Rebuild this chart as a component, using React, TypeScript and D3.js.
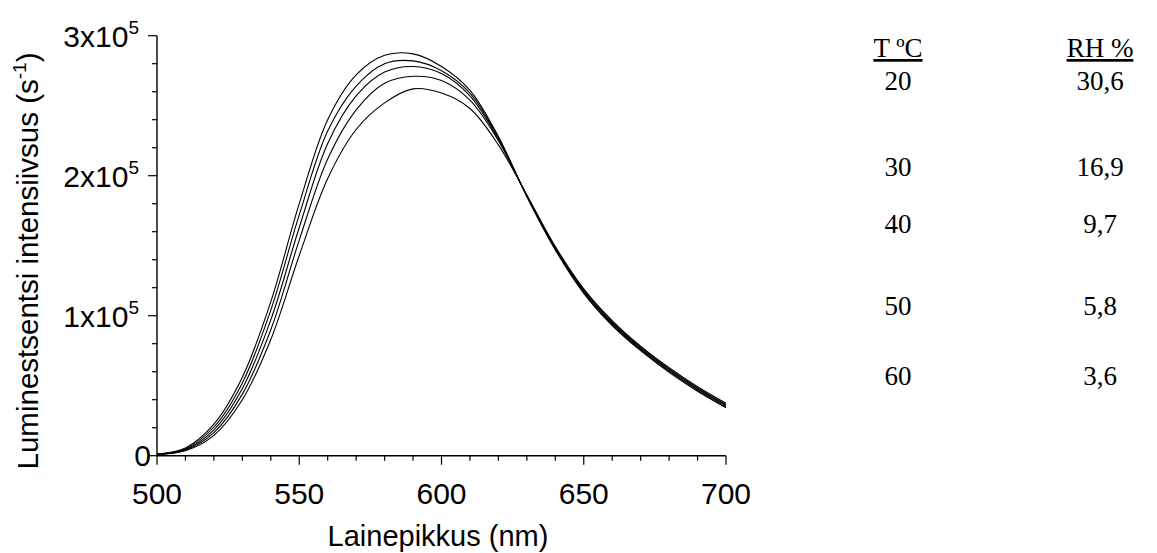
import React from "react";
import * as d3 from "d3";

const UNIT = 1e5;
const wavelengths = [500, 510, 520, 530, 540, 550, 560, 570, 580, 590, 600, 610, 620, 630, 640, 650, 660, 670, 680, 690, 700];
const series20 = [0.012, 0.055, 0.225, 0.56, 1.10, 1.80, 2.40, 2.72, 2.86, 2.87, 2.78, 2.61, 2.28, 1.85, 1.47, 1.16, 0.93, 0.75, 0.595, 0.46, 0.342];
const series30 = [0.011, 0.05, 0.205, 0.52, 1.04, 1.72, 2.32, 2.64, 2.80, 2.82, 2.75, 2.59, 2.27, 1.853, 1.476, 1.168, 0.938, 0.757, 0.603, 0.468, 0.35];
const series40 = [0.010, 0.045, 0.185, 0.48, 0.97, 1.63, 2.23, 2.57, 2.74, 2.78, 2.73, 2.57, 2.26, 1.856, 1.482, 1.176, 0.946, 0.765, 0.611, 0.476, 0.358];
const series50 = [0.009, 0.04, 0.165, 0.44, 0.90, 1.54, 2.12, 2.47, 2.66, 2.71, 2.68, 2.54, 2.25, 1.859, 1.488, 1.184, 0.955, 0.773, 0.619, 0.484, 0.366];
const series60 = [0.008, 0.035, 0.145, 0.40, 0.83, 1.43, 1.98, 2.33, 2.52, 2.62, 2.59, 2.48, 2.22, 1.862, 1.494, 1.192, 0.965, 0.782, 0.628, 0.493, 0.375];
const allSeries = [series20, series30, series40, series50, series60];

const xTicks = [500, 550, 600, 650, 700];
const yTicks = [0, 1, 2, 3];
const tempLabels = ["20", "30", "40", "50", "60"];
const rhLabels = ["30,6", "16,9", "9,7", "5,8", "3,6"];
const legendRowY = [80, 166, 223, 305, 375];

const SANS = "'Liberation Sans', Arial, sans-serif";
const SERIF = "'Liberation Serif', 'Times New Roman', serif";

export default function App() {
  const x = d3.scaleLinear().domain([500, 700]).range([157, 726]);
  const y = d3.scaleLinear().domain([0, 3 * UNIT]).range([455.7, 35.7]);
  const line = d3
    .line<number>()
    .x((_, i) => x(wavelengths[i]))
    .y((d) => y(d * UNIT))
    .curve(d3.curveCatmullRom.alpha(0.5));

  const xMinor = d3.range(500, 701, 10);
  const yMinor = d3.range(0, 3.0001, 0.2);

  return (
    <svg
      width={1157}
      height={553}
      style={{ position: "absolute", left: 0, top: 0, background: "#fff" }}
    >
      <rect x={0} y={0} width={1157} height={553} fill="#fff" />
      {allSeries.map((s, i) => (
        <path key={i} d={line(s) || ""} fill="none" stroke="#000" strokeWidth={1.1} />
      ))}
      {/* axes */}
      <line x1={x(500)} x2={x(500)} y1={y(0) + 0.5} y2={y(3 * UNIT)} stroke="#000" strokeWidth={1.4} />
      <line x1={x(500)} x2={x(700)} y1={y(0)} y2={y(0)} stroke="#000" strokeWidth={1.4} />
      {xMinor.map((v) => {
        const major = v % 50 === 0;
        return (
          <line key={"xm" + v} x1={x(v)} x2={x(v)} y1={y(0)} y2={y(0) + (major ? 9 : 5)} stroke="#000" strokeWidth={1.2} />
        );
      })}
      {yMinor.map((v) => {
        const major = Math.abs(v - Math.round(v)) < 1e-6;
        return (
          <line key={"ym" + v} x1={x(500) - (major ? 9 : 5)} x2={x(500)} y1={y(v * UNIT)} y2={y(v * UNIT)} stroke="#000" strokeWidth={1.2} />
        );
      })}
      {xTicks.map((v) => (
        <text key={"xt" + v} x={x(v)} y={y(0) + 48} textAnchor="middle" fontFamily={SANS} fontSize={30} fill="#000">
          {v}
        </text>
      ))}
      {yTicks.map((v) =>
        v === 0 ? (
          <text key={"yt" + v} x={x(500) - 6} y={y(0) + 10} textAnchor="end" fontFamily={SANS} fontSize={30} fill="#000">
            0
          </text>
        ) : (
          <text key={"yt" + v} x={x(500) - 18} y={y(v * UNIT) + 11} textAnchor="end" fontFamily={SANS} fontSize={30} fill="#000">
            {v}x10
            <tspan dy={-13} fontSize={19}>5</tspan>
          </text>
        )
      )}
      <text x={438} y={546} textAnchor="middle" fontFamily={SANS} fontSize={29} fill="#000">
        Lainepikkus (nm)
      </text>
      <text
        transform={`translate(38, ${261}) rotate(-90)`}
        textAnchor="middle"
        fontFamily={SANS}
        fontSize={29.5}
        fill="#000"
      >
        Luminestsentsi intensiivsus (s
        <tspan dy={-12} fontSize={19}>-1</tspan>
        <tspan dy={12}>)</tspan>
      </text>
      {/* legend table */}
      <text x={898} y={57} textAnchor="middle" fontFamily={SERIF} fontSize={27} fill="#000" textDecoration="underline">
        T ºC
      </text>
      <text x={1100} y={57} textAnchor="middle" fontFamily={SERIF} fontSize={27} fill="#000" textDecoration="underline">
        RH %
      </text>
      {tempLabels.map((t, i) => (
        <text key={"t" + t} x={898} y={legendRowY[i] + 10} textAnchor="middle" fontFamily={SERIF} fontSize={27} fill="#000">
          {t}
        </text>
      ))}
      {rhLabels.map((t, i) => (
        <text key={"r" + t} x={1100} y={legendRowY[i] + 10} textAnchor="middle" fontFamily={SERIF} fontSize={27} fill="#000">
          {t}
        </text>
      ))}
    </svg>
  );
}
